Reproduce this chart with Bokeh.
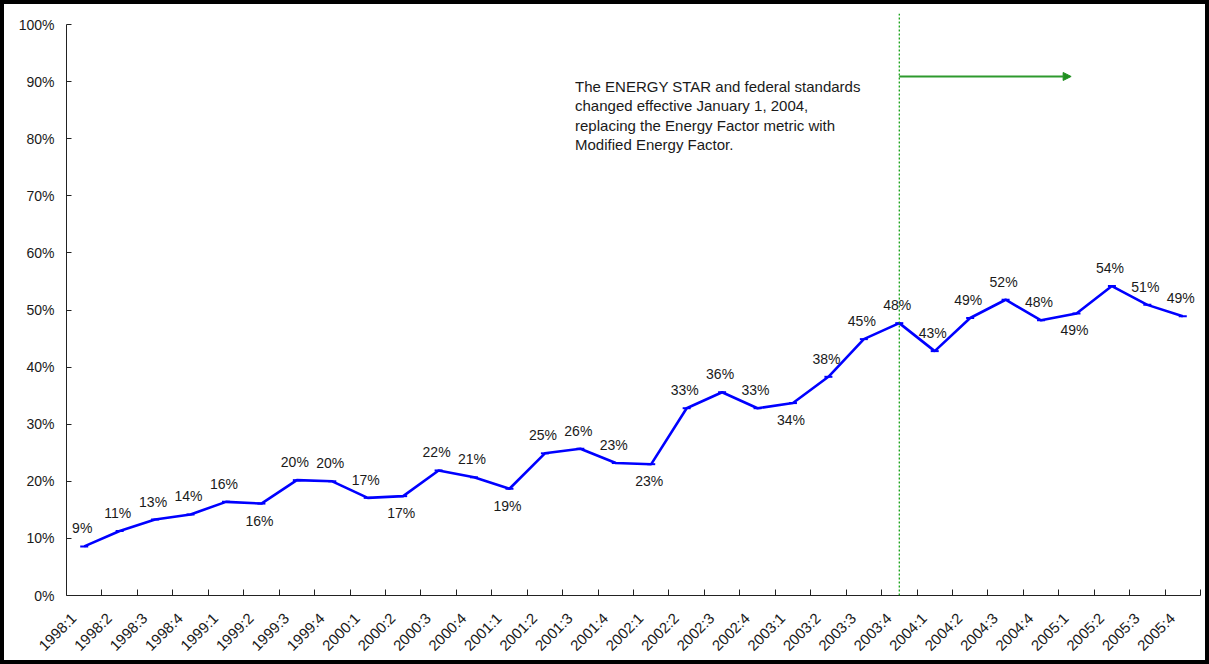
import math
from bokeh.plotting import figure
from bokeh.models import FixedTicker, Range1d, Arrow, NormalHead, Span, ColumnDataSource, LabelSet
from bokeh.core.properties import value
from bokeh.embed import file_html
from bokeh.resources import INLINE

# Quarterly share (%) of shipments
quarters = [
    "1998:1", "1998:2", "1998:3", "1998:4",
    "1999:1", "1999:2", "1999:3", "1999:4",
    "2000:1", "2000:2", "2000:3", "2000:4",
    "2001:1", "2001:2", "2001:3", "2001:4",
    "2002:1", "2002:2", "2002:3", "2002:4",
    "2003:1", "2003:2", "2003:3", "2003:4",
    "2004:1", "2004:2", "2004:3", "2004:4",
    "2005:1", "2005:2", "2005:3", "2005:4",
]
share = [
    8.6, 11.3, 13.3, 14.2,
    16.4, 16.1, 20.2, 20.0,
    17.1, 17.4, 21.9, 20.7,
    18.7, 24.9, 25.7, 23.2,
    23.0, 32.8, 35.6, 32.8,
    33.7, 38.3, 44.9, 47.7,
    42.8, 48.6, 51.8, 48.2,
    49.4, 54.2, 50.9, 48.9,
]
# which side of the point each value label sits on
label_side = [
    "a", "a", "a", "a",
    "a", "b", "a", "a",
    "a", "b", "a", "a",
    "b", "a", "a", "a",
    "b", "a", "a", "a",
    "b", "a", "a", "a",
    "a", "a", "a", "a",
    "b", "a", "a", "a",
]
y_ticks = [0, 10, 20, 30, 40, 50, 60, 70, 80, 90, 100]
change_quarter = "2003:4"
note_lines = [
    "The ENERGY STAR and federal standards",
    "changed effective January 1, 2004,",
    "replacing the Energy Factor metric with",
    "Modified Energy Factor.",
]

FONT = "Liberation Sans"
TXT = "#1a1a1a"

n = len(quarters)
xc = [i + 0.5 for i in range(n)]

p = figure(
    width=1209, height=664,
    output_backend="svg", toolbar_location=None,
    x_range=Range1d(0, n), y_range=Range1d(0, 101.93),
    min_border_left=62, min_border_right=13,
    min_border_top=9, min_border_bottom=73,
)
p.styles = {"border": "4px solid black", "box-sizing": "border-box"}
p.outline_line_color = None
p.xgrid.visible = False
p.ygrid.visible = False
p.background_fill_color = "white"
p.border_fill_color = "white"

# x axis: slanted labels ending just left of each quarter's centre,
# tick marks on the quarter boundaries
label_pos = [x - 0.3 for x in xc]
xax = p.xaxis[0]
xax.ticker = FixedTicker(ticks=label_pos, minor_ticks=list(range(1, n + 1)))
xax.major_label_overrides = {x: q for x, q in zip(label_pos, quarters)}
xax.major_tick_line_color = None
xax.minor_tick_in = 6
xax.minor_tick_out = 0
xax.minor_tick_line_color = "#222222"
xax.axis_line_color = "#222222"
xax.major_label_orientation = math.pi / 4
xax.major_label_text_font = FONT
xax.major_label_text_font_size = "15px"
xax.major_label_text_color = TXT
xax.major_label_standoff = 14

yax = p.yaxis[0]
yax.ticker = FixedTicker(ticks=y_ticks)
yax.major_label_overrides = {t: f"{t}%" for t in y_ticks}
yax.bounds = (0, 100)
yax.major_tick_in = 5
yax.major_tick_out = 0
yax.minor_tick_line_color = None
yax.axis_line_color = "#222222"
yax.major_tick_line_color = "#222222"
yax.major_label_text_font = FONT
yax.major_label_text_font_size = "14px"
yax.major_label_text_color = TXT
yax.major_label_standoff = 12

# standards change marker
cx = xc[quarters.index(change_quarter)]
p.add_layout(Span(location=cx, dimension="height", line_color="#009900",
                  line_width=1.2, line_dash="2 2"))
p.add_layout(Arrow(end=NormalHead(size=8, fill_color="#1f8f1f", line_color="#1f8f1f"),
                   x_start=cx, y_start=90.9, x_end=28.35, y_end=90.9,
                   line_color="#2e9a2e", line_width=2))

note_x = 14.35
p.text(x=[note_x] * len(note_lines),
       y=[89.1 - 3.37 * k for k in range(len(note_lines))],
       text=note_lines, text_font=value(FONT), text_font_size="15px",
       text_color=TXT, text_align="left", text_baseline="middle")

# the series
src = ColumnDataSource(dict(x=xc, y=share))
p.line("x", "y", source=src, line_color="#0000ff", line_width=2.6)
p.scatter("x", "y", source=src, marker="dash", size=8,
          line_color="#0000ff", line_width=2)

labels = [f"{round(v)}%" for v in share]
for side, off in (("a", 18), ("b", -17)):
    idx = [i for i, s in enumerate(label_side) if s == side]
    lsrc = ColumnDataSource(dict(x=[xc[i] for i in idx],
                                 y=[share[i] for i in idx],
                                 t=[labels[i] for i in idx]))
    p.add_layout(LabelSet(x="x", y="y", text="t", source=lsrc,
                          x_offset=-2, y_offset=off,
                          text_font=value(FONT), text_font_size="14px",
                          text_color=TXT, text_align="center",
                          text_baseline="middle"))

open("out.html", "w").write(file_html(p, INLINE))
